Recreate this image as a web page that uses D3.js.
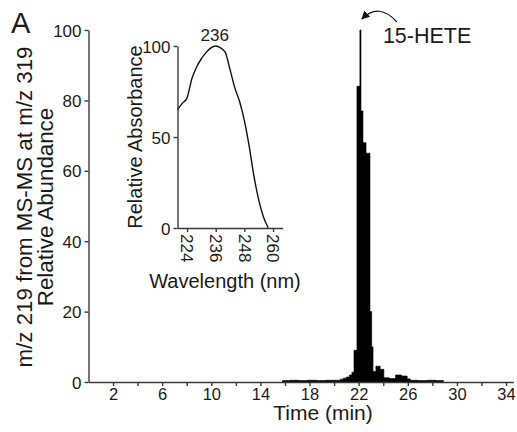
<!DOCTYPE html>
<html>
<head>
<meta charset="utf-8">
<script src="https://cdn.jsdelivr.net/npm/d3@7"></script>
<style>
  html, body { margin: 0; padding: 0; background: #fff; }
  svg { display: block; }
  text { font-family: "Liberation Sans", Arial, sans-serif; fill: #1a1a1a; }
  .axis path, .axis line { stroke: #3a3a3a; stroke-width: 1.4; }
  .axis text { font-size: 17px; fill: #1a1a1a; }
  .axis.time text { font-size: 16.5px; }
</style>
</head>
<body>
<svg id="chart" width="517" height="432"></svg>
<script>
// Selected-ion chromatogram: m/z 219 product ion from m/z 319 (step data)
const retentionTime = [15.8, 16.4, 17.1, 17.8, 18.6, 19.3, 20.0, 20.5, 20.75, 21.0, 21.25, 21.45, 21.62,
  21.86, 22.1, 22.19, 22.35, 22.6, 22.92, 23.06, 23.17, 23.4, 23.75, 24.05, 24.5, 25.0, 25.5, 25.95, 26.2,
  26.8, 27.6, 28.3, 28.9];
const abundance = [0.4, 0.5, 0.4, 0.5, 0.4, 0.5, 0.5, 0.8, 1.1, 1.4, 2.0, 2.8, 9,
  84, 100, 77, 68, 65, 20, 10, 3, 4.5, 3.6, 1.2, 1.0, 2.0, 1.7, 0.9, 0.5,
  0.4, 0.5, 0.4, 0];

// Inset: UV absorbance spectrum of the peak
const wavelength = [220, 222, 224, 226, 228, 230, 232, 234, 236, 238, 240, 242, 244, 246, 248, 250, 252, 254, 256, 258];
const absorbance = [65, 68.5, 71.5, 82, 88.5, 93, 96.5, 99, 100, 99, 96.5, 87, 77, 69.5, 59, 45, 28.5, 15.5, 6, 0];

const timeTicks = [2, 4, 6, 8, 10, 12, 14, 16, 18, 20, 22, 24, 26, 28, 30, 32, 34];
const timeTickLabels = [2, 6, 10, 14, 18, 22, 26, 30, 34];
const abundanceTicks = [0, 20, 40, 60, 80, 100];
const wavelengthTicks = [224, 236, 248, 260];
const absorbanceTicks = [0, 50, 100];

const svg = d3.select("#chart");

// ---- main chromatogram ----
const x = d3.scaleLinear().domain([0, 34.6]).range([88.5, 513.4]);
const y = d3.scaleLinear().domain([0, 100]).range([382, 30]);

const chrom = retentionTime.map((t, i) => ({ t, v: abundance[i] }));
svg.append("path")
  .datum(chrom)
  .attr("fill", "#000")
  .attr("stroke", "#000")
  .attr("stroke-width", 0.6)
  .attr("d", d3.area().curve(d3.curveStepAfter)
    .x(d => x(d.t)).y0(y(0)).y1(d => y(d.v)));

svg.append("g").attr("class", "axis time")
  .attr("transform", `translate(0,${y(0)})`)
  .call(d3.axisBottom(x).tickValues(timeTicks)
    .tickFormat(d => timeTickLabels.includes(d) ? d : "")
    .tickSize(4).tickSizeOuter(0).tickPadding(2));

const yAxis = svg.append("g").attr("class", "axis")
  .attr("transform", `translate(${x(0)},0)`)
  .call(d3.axisLeft(y).tickValues(abundanceTicks)
    .tickSize(4).tickSizeOuter(0).tickPadding(3));
yAxis.selectAll(".tick text").attr("dy", "0.36em");

svg.append("text")
  .attr("x", (x(0) + x(34.6)) / 2 + 22).attr("y", 420)
  .attr("text-anchor", "middle").style("font-size", "21px")
  .text("Time (min)");

const yTitle = svg.append("text")
  .attr("transform", `translate(0,${(y(0) + y(100)) / 2 + 1}) rotate(-90)`)
  .attr("text-anchor", "middle").style("font-size", "22.3px");
yTitle.append("tspan").attr("x", 0).attr("y", 32).text("m/z 219 from MS-MS at m/z 319");
yTitle.append("tspan").attr("x", 0).attr("y", 53).text("Relative Abundance");

svg.append("text").attr("x", 11).attr("y", 33)
  .style("font-size", "29px").text("A");

// peak annotation
const apexX = x(22.1) + 1;
const apexY = y(100);
svg.append("defs").append("marker")
  .attr("id", "head").attr("viewBox", "0 0 10 10")
  .attr("refX", 9).attr("refY", 5)
  .attr("markerWidth", 7).attr("markerHeight", 7)
  .attr("orient", "auto-start-reverse")
  .append("path").attr("d", "M0,0 L10,5 L0,10 z").attr("fill", "#111");
svg.append("path")
  .attr("d", `M${apexX + 36},${apexY - 8} Q${apexX + 18},${apexY - 28} ${apexX + 1},${apexY - 11}`)
  .attr("fill", "none").attr("stroke", "#111").attr("stroke-width", 1.2)
  .attr("marker-end", "url(#head)");
svg.append("text").attr("x", apexX + 22).attr("y", apexY + 13)
  .style("font-size", "21.5px").text("15-HETE");

// ---- inset: UV spectrum ----
const xi = d3.scaleLinear().domain([220, 264]).range([177.5, 282.6]);
const yi = d3.scaleLinear().domain([0, 100]).range([228, 46]);

const spectrum = wavelength.map((w, i) => ({ w, a: absorbance[i] }));
svg.append("path")
  .datum(spectrum)
  .attr("fill", "none").attr("stroke", "#111").attr("stroke-width", 1.4)
  .attr("d", d3.line().curve(d3.curveMonotoneX)
    .x(d => xi(d.w)).y(d => yi(d.a)));

const xiAxis = svg.append("g").attr("class", "axis")
  .attr("transform", `translate(0,${yi(0)})`)
  .call(d3.axisBottom(xi).tickValues(wavelengthTicks)
    .tickSize(4).tickSizeOuter(0).tickPadding(4));
xiAxis.selectAll(".tick text")
  .attr("transform", "rotate(90)")
  .attr("text-anchor", "start")
  .attr("x", 6).attr("y", 0).attr("dy", "0.36em");

const yiAxis = svg.append("g").attr("class", "axis")
  .attr("transform", `translate(${xi(220)},0)`)
  .call(d3.axisLeft(yi).tickValues(absorbanceTicks)
    .tickSize(4).tickSizeOuter(0).tickPadding(3));
yiAxis.selectAll(".tick text").attr("dy", "0.36em");

svg.append("text")
  .attr("transform", `translate(142,${(yi(0) + yi(100)) / 2}) rotate(-90)`)
  .attr("text-anchor", "middle").style("font-size", "20px")
  .text("Relative Absorbance");

svg.append("text")
  .attr("x", 225).attr("y", 288)
  .attr("text-anchor", "middle").style("font-size", "20px")
  .text("Wavelength (nm)");

svg.append("text")
  .attr("x", xi(236) - 1).attr("y", yi(100) - 5)
  .attr("text-anchor", "middle").style("font-size", "17px")
  .text("236");
</script>
</body>
</html>
